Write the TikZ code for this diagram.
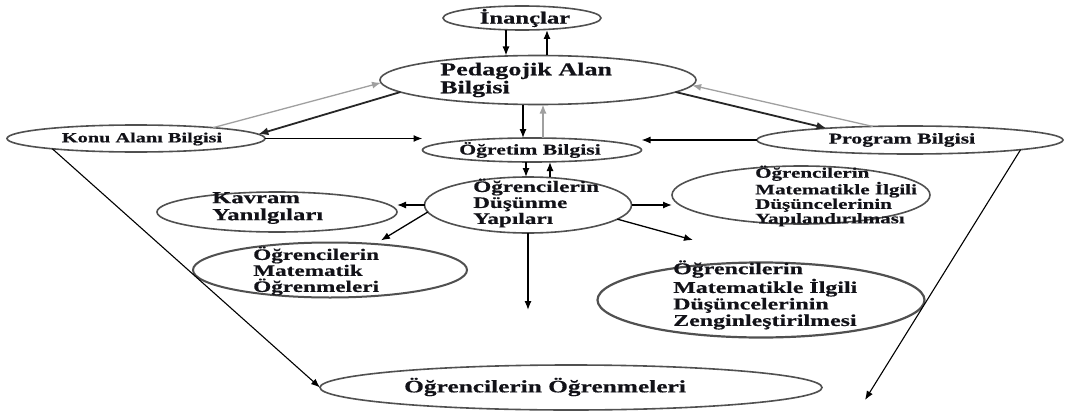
\documentclass[tikz,border=0pt]{standalone}
\usepackage{fontspec}
\setmainfont{Liberation Serif}[FakeStretch=1.45, BoldFeatures={FakeBold=0.5}]
\usetikzlibrary{shapes.geometric,arrows.meta,calc}
\definecolor{ellgray}{HTML}{505050}
\definecolor{arrgray}{HTML}{A0A0A0}
\definecolor{inkc}{HTML}{121218}
\begin{document}
\begin{tikzpicture}[x=1pt,y=-1pt,
  ell/.style={ellipse, draw=ellgray, line width=1.6pt, inner sep=0pt, outer sep=0pt},
  lbl/.style={inner sep=0pt, align=left, text=inkc},
  fs/.style={font=\bfseries\fontsize{#1}{#1}\selectfont},
  arr/.style={-{Latex[length=9pt,width=7pt]}, line width=1.3pt, black},
  arrb/.style={-{Latex[length=10pt,width=8pt]}, line width=1.8pt, black!85},
  arrt/.style={-{Latex[length=9pt,width=7pt]}, line width=1.1pt, black},
  garr/.style={-{Latex[length=9pt,width=7pt]}, line width=1.3pt, arrgray},
]
\fill[white] (0,0) rectangle (1065,412);
\useasboundingbox (0,0) rectangle (1065,412);

% ellipses
\node[ell, minimum width=158pt, minimum height=24pt] (ina)  at (522,18)    {};
\node[ell, minimum width=316pt, minimum height=49pt] (pab)  at (538,80)    {};
\node[ell, minimum width=258pt, minimum height=27pt] (konu) at (136,138.5) {};
\node[ell, minimum width=306pt, minimum height=28pt] (prog) at (910,140)   {};
\node[ell, minimum width=219pt, minimum height=24pt] (ogr)  at (532,150)   {};
\node[ell, minimum width=207pt, minimum height=56pt] (dus)  at (528,205)   {};
\node[ell, minimum width=240pt, minimum height=40pt] (kav)  at (277,212)   {};
\node[ell, minimum width=274pt, minimum height=55pt, line width=2pt] (mat) at (330,270) {};
\node[ell, minimum width=258pt, minimum height=58pt] (yap)  at (801,195)   {};
\node[ell, minimum width=327pt, minimum height=75pt, line width=2.2pt] (zen) at (761,300) {};
\node[ell, minimum width=502pt, minimum height=45pt] (oo)   at (571,387.5) {};

% texts
\node[lbl, fs=17] (ina-t) at (525,18) {İnançlar};
\node[lbl, fs=18, anchor=west] (pab-t) at (440,80) {Pedagojik Alan\\Bilgisi};
\node[lbl, fs=14] (konu-t) at (142,139) {Konu Alanı Bilgisi};
\node[lbl, fs=15] (prog-t) at (902,140) {Program Bilgisi};
\node[lbl, fs=15] (ogr-t) at (530,150) {Öğretim Bilgisi};
\node[lbl, fs=16, anchor=west] (dus-t) at (473,203) {Öğrencilerin\\Düşünme\\Yapıları};
\node[lbl, fs=17, anchor=west] (kav-t) at (212,208) {Kavram\\Yanılgıları};
\node[lbl, fs=16, anchor=west] (mat-t) at (253,271) {Öğrencilerin\\Matematik\\Öğrenmeleri};
\node[lbl, fs=14.5, anchor=west] (yap-t) at (755,196) {Öğrencilerin\\Matematikle İlgili\\Düşüncelerinin\\Yapılandırılması};
\node[lbl, fs=16.5, anchor=west] (zen-t) at (673,295) {Öğrencilerin\\Matematikle İlgili\\Düşüncelerinin\\Zenginleştirilmesi};
\node[lbl, fs=17.5] (oo-t) at (545,387) {Öğrencilerin Öğrenmeleri};

% free ends
\coordinate (zentip)  at (693,240);
\coordinate (dusend)  at (528,310);
\coordinate (progend) at (865,400);

% vertical links
\draw[arr]  ([xshift=-16pt]ina.south) -- ([xshift=-16pt]ina.south |- pab.north);
\draw[arr]  ([xshift=25pt]ina.south |- pab.north) -- ([xshift=25pt]ina.south);
\draw[arr]  ([xshift=-15pt]pab.south) -- ([xshift=-15pt]pab.south |- ogr.north);
\draw[garr] ([xshift=5pt]pab.south |- ogr.north) -- ([xshift=5pt]pab.south);
\draw[arr]  ([xshift=-6pt]ogr.south) -- ([xshift=-6pt]ogr.south |- dus.north);
\draw[arr]  ([xshift=18pt]ogr.south |- dus.north) -- ([xshift=18pt]ogr.south);

% side links
\draw[arrb] (pab.185) -- (konu.2);
\draw[garr] (konu.8) -- (pab.181);
\draw[arrb] (pab.355) -- (prog.172);
\draw[garr] (prog.160) -- (pab.358);
\draw[arr]  (konu.east) -- (konu.east -| ogr.west);
\draw[arr]  (prog.west) -- (prog.west -| ogr.east);

% branches from the thinking structures
\draw[arr] (dus.west) -- (dus.west -| kav.east);
\draw[arr, shorten >=7pt] (dus.184) -- (mat.30);
\draw[arr] (dus.east) -- (dus.east -| yap.west);
\draw[arr] (dus.351) -- (zentip);
\draw[arr] (dus.south) -- (dusend);

% long links to learning
\draw[arrt] (konu.187) -- (oo.west);
\draw[arrt] (prog.355) -- (progend);
\end{tikzpicture}
\end{document}
